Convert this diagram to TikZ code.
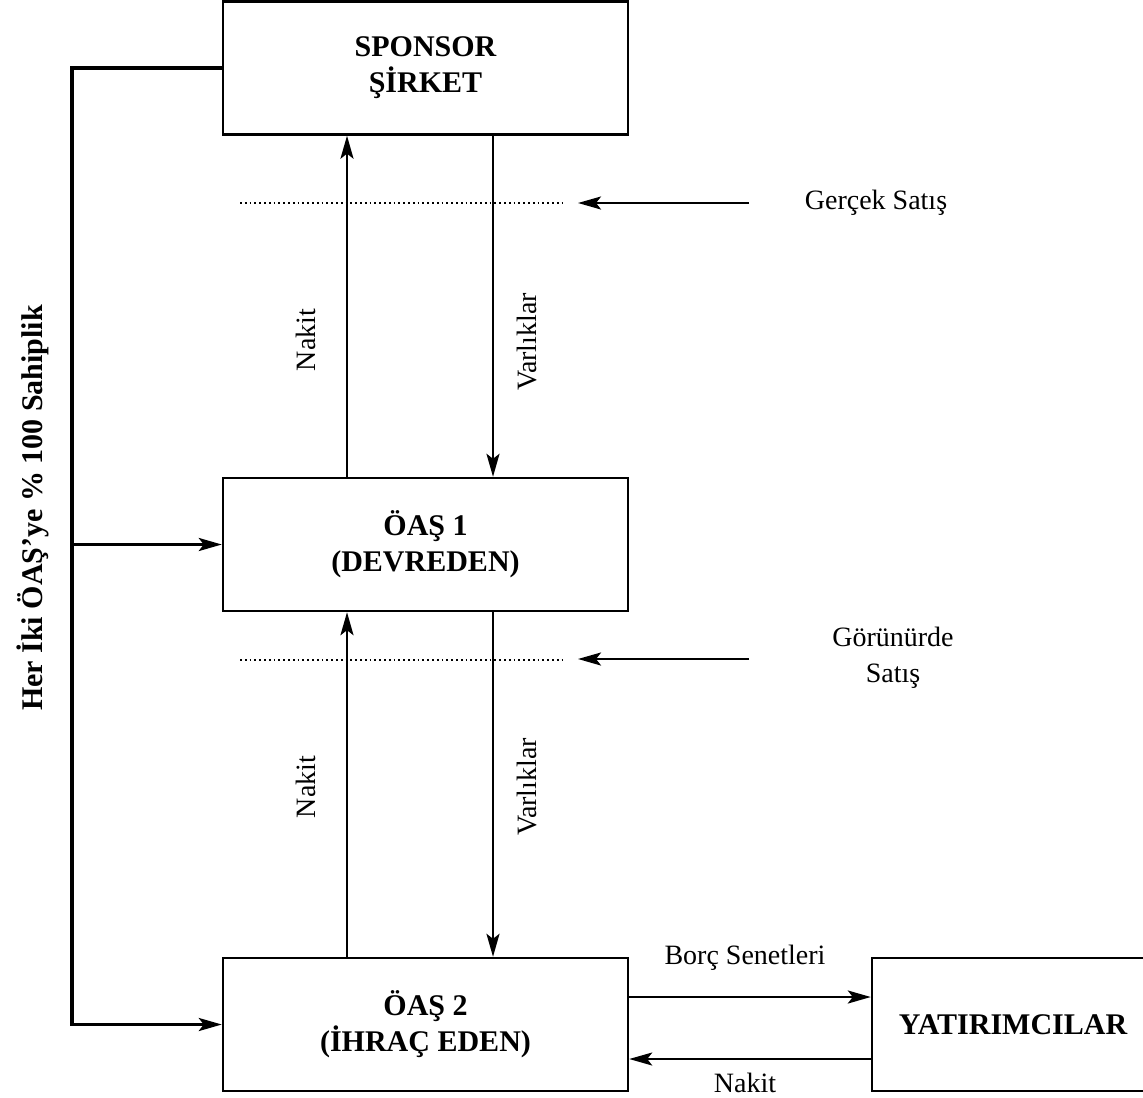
\documentclass[tikz,border=0pt]{standalone}
\usepackage{fontspec}
\setmainfont{Liberation Serif}
\usetikzlibrary{arrows.meta}

\begin{document}
\begin{tikzpicture}[x=0.5pt, y=-0.5pt,
  box/.style={draw, line width=1.2pt, minimum width=202.5pt, minimum height=66.5pt, align=center, font=\fontsize{15}{18}\selectfont\bfseries},
  lbl/.style={font=\fontsize{14}{18}\selectfont, align=center, inner sep=0pt},
  arr/.style={-{Stealth[length=11.5pt, width=6.5pt, inset=2.5pt]}, line width=1.2pt},
  own/.style={arr, line width=1.6pt},
  dotline/.style={line width=1pt, dash pattern=on 0.9pt off 1.5pt}
]
\useasboundingbox (0,0) rectangle (1143,1097);

\node[box] (sponsor) at (425.5,68) {SPONSOR\\ŞİRKET};
\node[box] (oas1) at (425.5,544.5) {ÖAŞ 1\\(DEVREDEN)};
\node[box] (oas2) at (425.5,1024.5) {ÖAŞ 2\\(İHRAÇ EDEN)};
\node[box, minimum width=141pt] (yatirim) at (1013,1024.5) {YATIRIMCILAR};

\coordinate (nx) at (347,0);
\coordinate (vx) at (493,0);
\coordinate (bus) at (72,0);

\draw[own] (sponsor.west) -- (bus |- sponsor.west) |- (oas2.west);
\draw[own] (bus |- oas1.west) -- (oas1.west);

\draw[arr] (nx |- oas1.north) -- (nx |- sponsor.south);
\draw[arr] (vx |- sponsor.south) -- (vx |- oas1.north);
\draw[arr] (nx |- oas2.north) -- (nx |- oas1.south);
\draw[arr] (vx |- oas1.south) -- (vx |- oas2.north);
\draw[arr] ([yshift=13.75pt]oas2.east) -- ([yshift=13.75pt]yatirim.west);
\draw[arr] ([yshift=-17.25pt]yatirim.west) -- ([yshift=-17.25pt]oas2.east);

\draw[dotline] (240,203) -- (563,203);
\draw[dotline] (240,660) -- (563,660);
\coordinate (gs1) at (749,203);
\coordinate (gs2) at (578,203);
\coordinate (gr1) at (749,659);
\coordinate (gr2) at (578,659);
\draw[arr] (gs1) -- (gs2);
\draw[arr] (gr1) -- (gr2);

\node[lbl] (gercek) at (876,203) {Gerçek Satış};
\node[lbl] (gorunur) at (893,658) {Görünürde\\Satış};
\node[lbl] (borc) at (745,958) {Borç Senetleri};
\node[lbl] (nakit3) at (745,1083) {Nakit};
\node[lbl, rotate=90] (nakit1) at (305.5,340) {Nakit};
\node[lbl, rotate=90] (varlik1) at (527,342) {Varlıklar};
\node[lbl, rotate=90] (nakit2) at (305.5,787) {Nakit};
\node[lbl, rotate=90] (varlik2) at (527,787) {Varlıklar};
\node[rotate=90, font=\fontsize{15}{18}\selectfont\bfseries] (sahiplik) at (33,508) {Her İki ÖAŞ’ye \% 100 Sahiplik};
\end{tikzpicture}
\end{document}
